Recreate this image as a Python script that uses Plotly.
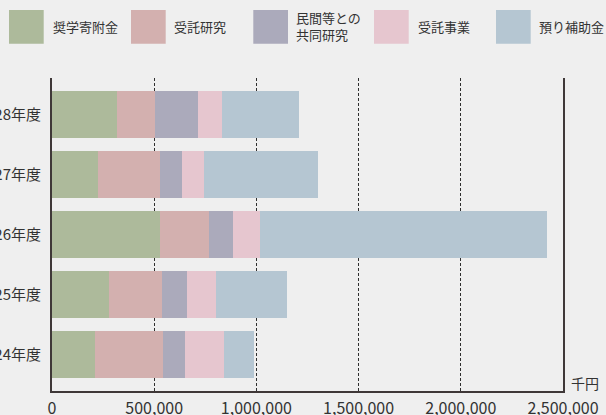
import plotly.graph_objects as go

# ---- data (thousand yen) ----
years = ["24年度", "25年度", "26年度", "27年度", "28年度"]
series_names = ["奨学寄附金", "受託研究", "民間等との<br>共同研究", "受託事業", "預り補助金"]
shogaku = [209000, 278000, 527000, 224000, 316000]
jutaku_kenkyu = [333000, 259000, 240000, 303000, 186000]
kyodo_kenkyu = [107000, 122000, 117000, 107000, 211000]
jutaku_jigyo = [191000, 142000, 132000, 108000, 117000]
azukari = [147000, 351000, 1404000, 558000, 377000]
series_values = [shogaku, jutaku_kenkyu, kyodo_kenkyu, jutaku_jigyo, azukari]
colors = ["#adba9b", "#d3b0af", "#abaabb", "#e6c6cf", "#b5c6d2"]
x_ticks = [0, 500000, 1000000, 1500000, 2000000, 2500000]
x_ticktext = ["0", "500,000", "1,000,000", "1,500,000", "2,000,000", "2,500,000"]
unit_label = "千円"

W, H = 606, 415
ML, MR, MT, MB = 52, 43, 78, 24
PW, PH = W - ML - MR, H - MT - MB
FONT = "Noto Sans CJK JP, Noto Sans, sans-serif"
TXT = "#333333"
AX = "#3f3838"


def px(x):
    return (x - ML) / PW


def py(y):
    return (H - MB - y) / PH


fig = go.Figure()
for name, vals, col in zip(series_names, series_values, colors):
    fig.add_trace(go.Bar(
        y=years, x=vals, name=name, orientation="h",
        marker=dict(color=col, line=dict(width=0)),
        showlegend=False,
    ))

# custom legend (large swatches)
sw_x = [9, 131, 253.3, 374, 496]
txt_x = [50.7, 172, 294.3, 416, 537.3]
shapes = []
annotations = []
for i, (name, col) in enumerate(zip(series_names, colors)):
    shapes.append(dict(type="rect", xref="paper", yref="paper",
                       x0=px(sw_x[i]), x1=px(sw_x[i] + 34.7),
                       y0=py(43.7), y1=py(10),
                       fillcolor=col, line=dict(width=0), layer="above"))
    annotations.append(dict(xref="paper", yref="paper", x=px(txt_x[i]), y=py(26),
                            text=name, showarrow=False, xanchor="left", yanchor="middle",
                            align="left", font=dict(family=FONT, size=13, color=TXT)))

annotations.append(dict(xref="paper", yref="paper", x=px(601), y=py(383),
                        text=unit_label, showarrow=False, xanchor="right", yanchor="middle",
                        font=dict(family=FONT, size=14, color=TXT)))

fig.update_layout(
    width=W, height=H,
    margin=dict(l=ML, r=MR, t=MT, b=MB, autoexpand=False),
    paper_bgcolor="#efefef", plot_bgcolor="#efefef",
    barmode="stack", bargap=0.222,
    shapes=shapes, annotations=annotations,
    font=dict(family=FONT, color=TXT),
    xaxis=dict(range=[0, 2500000], tickvals=x_ticks, ticktext=x_ticktext,
               showgrid=True, gridcolor="#2e2e2e", gridwidth=1, griddash="3px,2px",
               zeroline=False, showline=True, linecolor=AX, linewidth=2,
               ticks="", tickfont=dict(family=FONT, size=16, color=TXT),
               ticklabelstandoff=2, automargin=False, fixedrange=True),
    yaxis=dict(categoryorder="array", categoryarray=years, range=[-0.605, 4.605],
               showgrid=False, zeroline=False, showline=True, mirror=True,
               linecolor=AX, linewidth=2, ticks="",
               tickfont=dict(family=FONT, size=15, color=TXT),
               ticklabelstandoff=6, automargin=False, fixedrange=True),
)

fig.write_html(
    "out.html",
    config={"displayModeBar": False},
    post_script="document.body.style.margin='0';document.body.style.overflow='hidden';",
)
